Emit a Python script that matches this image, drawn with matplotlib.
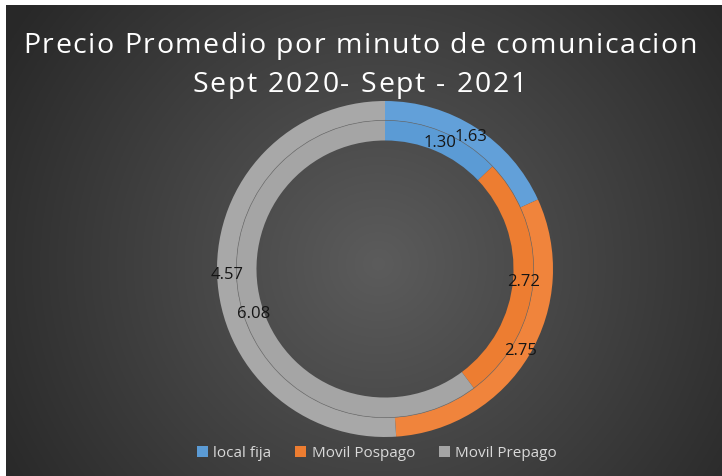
import numpy as np
import matplotlib
matplotlib.use("Agg")
import matplotlib.pyplot as plt
from matplotlib.patches import Patch, Circle
from matplotlib.font_manager import FontProperties

# data (inner ring = first series, outer ring = second series)
categories = ["local fija", "Movil Pospago", "Movil Prepago"]
inner_vals = [1.30, 2.72, 6.08]
outer_vals = [1.63, 2.75, 4.57]
title_lines = ["Precio Promedio por minuto de comunicacion", "Sept 2020- Sept - 2021"]

COLORS = ["#5B9BD5", "#ED7D31", "#A5A5A5"]
OUTER_COLORS = ["#62A0D9", "#F0843C", "#A8A8A8"]

W, H = 722, 477
fig = plt.figure(figsize=(W / 100, H / 100), dpi=100, facecolor="white")

# dark panel with radial gradient
bg = fig.add_axes([6 / W, 0, 1 - 6 / W, 1 - 6 / H])
yy, xx = np.mgrid[0:1:300j, 0:1:460j]
r = np.hypot((xx - 0.52) * 1.5, (yy - 0.45))
shade = np.clip(0.36 - 0.22 * r, 0.16, 0.36)
bg.imshow(np.dstack([shade] * 3), extent=[0, 1, 0, 1], aspect="auto", origin="lower")
bg.axis("off")

# donut
cx, cy, R = 385, 270, 168
ax = fig.add_axes([(cx - R) / W, (H - cy - R) / H, 2 * R / W, 2 * R / H])
ax.axis("off")
r_out, r_mid, r_in = 1.0, 0.885, 0.765

ax.pie(outer_vals, radius=r_out, colors=OUTER_COLORS, startangle=90, counterclock=False,
       wedgeprops=dict(width=r_out - r_mid, edgecolor="none"))
ax.pie(inner_vals, radius=r_mid, colors=COLORS, startangle=90, counterclock=False,
       wedgeprops=dict(width=r_mid - r_in, edgecolor="none"))
ax.add_patch(Circle((0, 0), r_mid, fill=False, ec="#6a6a6a", lw=0.5, alpha=0.8))
ax.set_xlim(-1, 1); ax.set_ylim(-1, 1)
ax.set_aspect("auto")


def _labels(vals, rad):
    tot = sum(vals)
    acc = 0.0
    for v in vals:
        mid = 90 - 360 * (acc + v / 2) / tot
        acc += v
        a = np.deg2rad(mid)
        ax.text(rad * np.cos(a), rad * np.sin(a), f"{v:.2f}", ha="center", va="center",
                fontsize=12, color="#151515", family="Open Sans")


_labels(outer_vals, (r_out + r_mid) / 2)
_labels(inner_vals, (r_mid + r_in) / 2)

# letter-spaced title (Excel style), placed char by char
prop = FontProperties(family="Open Sans", size=20.5)
renderer = fig.canvas.get_renderer()


def _tw(s):
    return renderer.get_text_width_height_descent(s, prop, ismath=False)[0]


def _spaced(line, left, right, base_y):
    n = len(line)
    sp = ((right - left) - _tw(line)) / (n - 1)
    for i, ch in enumerate(line):
        if ch == " ":
            continue
        x = left + _tw(line[:i + 1]) + i * sp
        fig.text(x / W, 1 - base_y / H, ch, ha="right", va="baseline",
                 fontproperties=prop, color="white")


_spaced(title_lines[0], 23, 697, 53)
_spaced(title_lines[1], 192, 527, 92)

handles = [Patch(facecolor=c, edgecolor="none", label=l) for c, l in zip(COLORS, categories)]
fig.legend(handles=handles, loc="center", bbox_to_anchor=(377 / W, 1 - 454 / H), ncol=3,
           frameon=False, handlelength=0.7, handleheight=0.7, handletextpad=0.35,
           columnspacing=1.6, prop=dict(family="Open Sans", size=11),
           labelcolor="#d9d9d9")

fig.savefig("out.png", dpi=100, facecolor="white")
